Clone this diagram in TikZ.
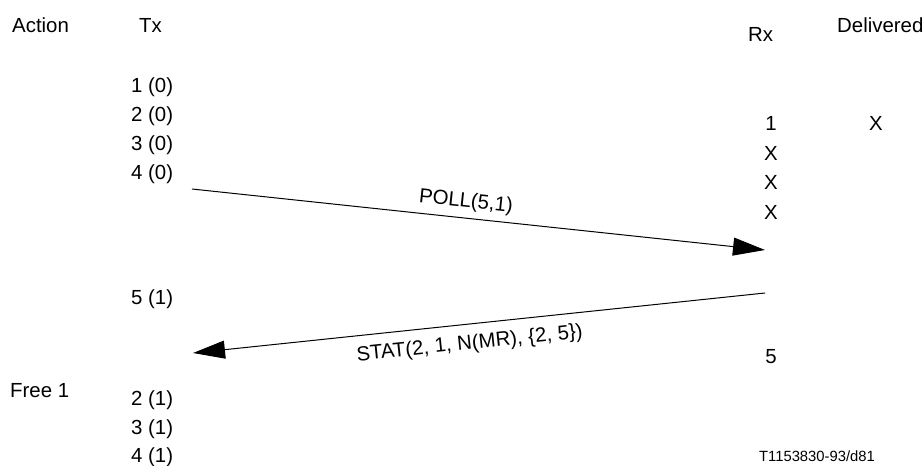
\documentclass[tikz,border=0pt]{standalone}
\usepackage{fontspec}
\setmainfont{Liberation Sans}
\usetikzlibrary{arrows.meta}
\begin{document}
\begin{tikzpicture}[x=1pt,y=-1pt,
  lbl/.style={inner sep=0pt,font=\fontsize{20.4}{24}\selectfont},
  lw/.style={lbl,anchor=base west},
  lc/.style={lbl,anchor=base},
  msg/.style={line width=1pt,-{Triangle[length=32pt,width=18pt]}},
  msglbl/.style={inner sep=0pt,font=\fontsize{20.4}{24}\selectfont,sloped}]
\useasboundingbox (0,0) rectangle (924,466);
% headers
\node[lw] (action) at (12,32) {Action};
\node[lw] (tx) at (139,32) {Tx};
\node[lw] (rx) at (748,41) {Rx};
\node[lw] (deliv) at (837,32) {Delivered};
% Tx column
\node[lw] (t1) at (131,92) {1 (0)};
\node[lw] (t2) at (131,121) {2 (0)};
\node[lw] (t3) at (131,150) {3 (0)};
\node[lw] (t4) at (131,179) {4 (0)};
\node[lw] (t5) at (131,304) {5 (1)};
\node[lw] (free) at (10,397) {Free 1};
\node[lw] (u2) at (131,405) {2 (1)};
\node[lw] (u3) at (131,434) {3 (1)};
\node[lw] (u4) at (131,462) {4 (1)};
% Rx column
\node[lc] (r1) at (771,130) {1};
\node[lc] (r2) at (771,160) {X};
\node[lc] (r3) at (771,189) {X};
\node[lc] (r4) at (771,219) {X};
\node[lc] (r5) at (771,363) {5};
\node[lc] (d1) at (876,130) {X};
% footer
\node[inner sep=0pt,anchor=base,font=\fontsize{14.8}{17}\selectfont] (ref) at (817,461) {T1153830-93/d81};
% messages
\coordinate (pa) at (192,189);
\coordinate (pb) at (765,250);
\coordinate (sa) at (765,293);
\coordinate (sb) at (193,353);
\draw[msg] (pa) -- node[msglbl,pos=0.475,anchor=south,above=6pt] (poll) {POLL(5,1)} (pb);
\draw[msg] (sa) -- node[msglbl,pos=0.52,anchor=north,below=10pt] (stat) {STAT(2, 1, N(MR), \{2, 5\})} (sb);
\end{tikzpicture}
\end{document}
